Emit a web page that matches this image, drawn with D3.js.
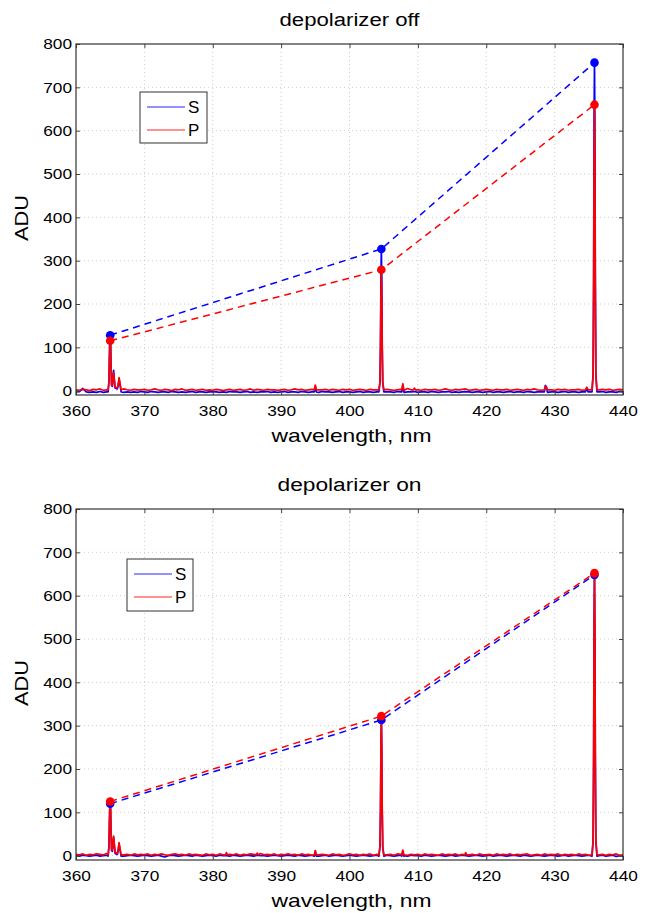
<!DOCTYPE html>
<html><head><meta charset="utf-8">
<script src="https://cdn.jsdelivr.net/npm/d3@7/dist/d3.min.js"></script>
<style>body{margin:0;background:#fff}svg{display:block}</style>
</head><body>
<svg id="chart" width="650" height="913"></svg>
<script>
// ---------- data ----------
const titles = ["depolarizer off", "depolarizer on"];
const seriesNames = ["S", "P"];
const xTicks = [360, 370, 380, 390, 400, 410, 420, 430, 440];
const yTicks = [0, 100, 200, 300, 400, 500, 600, 700, 800];
const baseStart = 360, baseStep = 0.5;   // wavelength grid of the baseline samples
const lineWavelengths = [365.0, 404.66, 435.83];

// peak ADU values marked with dots
const offS_dots = [128, 327, 757];
const offP_dots = [115, 279, 660];
const onS_dots  = [120, 313, 648];
const onP_dots  = [125, 322, 652];

// baseline readings, 360.0 .. 440.0 nm every 0.5 nm
const offS_base = [
 -3,-2,5,-3,-4,-3,-4,-2,-4,-3,-3,-4,-3,-2,-4,-3,-4,-3,-4,-2,
 -3,-4,-2,-3,-4,-3,-3,-4,-2,-3,-4,-3,-4,-3,-2,-4,-3,-3,-4,-3,
 -2,-3,-4,-3,-4,-2,-3,-3,-4,-3,-2,-4,-3,-4,-3,-3,-2,-4,-3,-4,
 -3,-2,-4,-3,-3,-4,-2,-3,-4,-3,-3,-4,-2,-3,-3,-4,-3,-2,-4,-3,
 -3,-4,-3,-2,-4,-3,-3,-4,-3,-2,-4,-3,-3,-4,-2,-3,-4,-3,-3,-2,
 -4,-3,-3,-4,-2,-3,-4,-3,-3,-2,-4,-3,-4,-3,-2,-3,-4,-3,-3,-4,
 -3,-2,-4,-3,-3,-4,-3,-2,-4,-3,-3,-4,-2,-3,-4,-3,-3,-2,-4,-3,
 -3,-4,-3,-2,-4,-3,-3,-4,-3,-2,-3,-4,-3,-3,-2,-4,-3,-3,-4,-2,
 -3];
const offP_base = [
 2,1,3,2,0,3,2,4,1,2,3,2,1,3,4,2,1,3,2,2,
 3,1,2,4,2,1,3,2,0,3,2,4,1,2,3,1,2,3,1,2,
 1,3,2,0,2,3,1,2,3,1,2,4,1,3,2,1,3,2,2,1,
 2,3,1,2,4,2,3,1,2,3,1,2,2,3,1,3,2,1,3,2,
 3,1,2,3,2,1,3,2,2,4,1,3,2,1,2,3,1,5,2,3,
 2,1,3,2,2,3,1,2,4,2,1,3,2,3,4,1,2,3,1,2,
 3,2,1,3,2,2,3,1,2,3,2,1,3,2,4,2,1,3,2,2,
 1,3,2,3,1,2,2,3,1,4,2,3,1,2,3,2,3,1,2,3,
 2];
const onS_base = [
 0,-1,1,0,-1,0,1,-1,0,1,0,-1,1,0,-1,0,1,0,-1,0,
 1,0,-1,0,1,-1,-3,0,1,0,-1,0,1,0,-1,1,0,-1,0,1,
 0,-1,1,0,0,-1,1,0,-1,0,1,0,-1,1,0,0,-1,0,1,0,
 -1,0,1,0,-1,1,0,-1,0,1,0,-1,0,1,-1,0,1,0,-1,0,
 1,0,-1,0,1,0,-1,0,1,-1,0,1,0,-1,0,1,0,-1,1,0,
 0,-1,1,0,-1,0,1,0,-1,0,1,-1,0,1,0,-1,0,1,0,-1,
 0,1,-1,0,1,0,-1,0,1,0,-1,1,0,-1,0,1,0,-1,0,1,
 0,-1,0,1,-1,0,1,0,-1,0,1,0,-1,0,1,-1,0,1,-2,0,
 -1];
const onP_base = [
 3,2,4,1,3,2,4,3,2,5,1,3,2,4,2,3,1,4,2,3,
 2,4,1,3,2,4,2,1,3,4,2,3,1,4,2,3,2,1,4,2,
 3,1,4,2,6,3,2,4,1,3,2,4,3,1,5,2,3,2,4,1,
 3,2,4,2,3,1,4,2,3,1,4,2,3,2,1,4,2,3,1,2,
 4,2,3,1,3,2,4,1,3,2,4,2,3,1,4,3,2,1,3,2,
 3,1,4,2,3,2,1,4,2,3,2,4,1,3,6,2,3,1,4,2,
 2,3,1,4,2,3,2,4,1,3,2,3,4,1,2,3,1,4,2,3,
 2,4,1,3,2,3,1,4,2,3,1,2,4,2,3,1,3,2,4,1,
 2];

// emission lines: [wavelength nm, ADU] points per line
const offS_peaks = [
 [[364.7,-3],[364.82,20],[364.89,80],[364.94,115],[365.0,128],[365.06,115],[365.11,70],[365.2,12],[365.32,10],[365.42,35],[365.5,47],[365.58,30],[365.72,6],[366.05,4],[366.2,15],[366.3,28],[366.4,18],[366.6,-3]],
 [[394.85,-3],[395.0,10],[395.15,-3]],
 [[404.3,-3],[404.46,20],[404.54,120],[404.6,260],[404.66,327],[404.72,260],[404.78,120],[404.86,20],[405.02,-3]],
 [[407.65,-3],[407.8,13],[407.95,-3]],
 [[428.5,-3],[428.65,12],[428.8,9],[428.95,-3]],
 [[434.5,-3],[434.7,5],[434.9,-3]],
 [[435.47,-3],[435.63,40],[435.71,280],[435.77,620],[435.83,757],[435.89,620],[435.95,280],[436.03,40],[436.19,-3]]
];
const offP_peaks = [
 [[364.7,2],[364.82,22],[364.89,75],[364.94,105],[365.0,115],[365.06,105],[365.11,65],[365.2,14],[365.32,12],[365.42,32],[365.5,42],[365.58,28],[365.72,8],[366.05,6],[366.2,17],[366.3,30],[366.4,20],[366.6,2]],
 [[394.85,2],[395.0,13],[395.15,2]],
 [[404.3,2],[404.46,20],[404.54,100],[404.6,220],[404.66,279],[404.72,220],[404.78,100],[404.86,20],[405.02,2]],
 [[407.65,2],[407.8,16],[407.95,2]],
 [[409.35,2],[409.5,6],[409.65,2]],
 [[428.5,2],[428.65,10],[428.8,7],[428.95,2]],
 [[434.5,2],[434.7,8],[434.9,2]],
 [[435.47,2],[435.63,35],[435.71,240],[435.77,540],[435.83,660],[435.89,540],[435.95,240],[436.03,35],[436.19,2]]
];
const onS_peaks = [
 [[364.7,-1],[364.82,20],[364.89,75],[364.94,108],[365.0,120],[365.06,108],[365.11,65],[365.2,12],[365.32,10],[365.42,32],[365.5,42],[365.58,28],[365.72,5],[366.05,3],[366.2,15],[366.3,27],[366.4,17],[366.6,-1]],
 [[394.85,-1],[395.0,10],[395.15,-1]],
 [[404.3,-1],[404.46,20],[404.54,110],[404.6,245],[404.66,313],[404.72,245],[404.78,110],[404.86,20],[405.02,-1]],
 [[407.65,-1],[407.8,10],[407.95,-1]],
 [[435.47,-1],[435.63,35],[435.71,235],[435.77,530],[435.83,648],[435.89,530],[435.95,235],[436.03,35],[436.19,-1]]
];
const onP_peaks = [
 [[364.7,2],[364.82,24],[364.89,80],[364.94,112],[365.0,125],[365.06,112],[365.11,68],[365.2,14],[365.32,12],[365.42,34],[365.5,45],[365.58,30],[365.72,8],[366.05,5],[366.2,18],[366.3,30],[366.4,20],[366.6,2]],
 [[381.85,2],[382.0,7],[382.15,2]],
 [[386.35,2],[386.5,6],[386.65,2]],
 [[394.85,2],[395.0,12],[395.15,2]],
 [[404.3,2],[404.46,22],[404.54,115],[404.6,250],[404.66,322],[404.72,250],[404.78,115],[404.86,22],[405.02,2]],
 [[407.65,2],[407.8,13],[407.95,2]],
 [[416.85,2],[417.0,7],[417.15,2]],
 [[435.47,2],[435.63,36],[435.71,238],[435.77,535],[435.83,652],[435.89,535],[435.95,238],[436.03,36],[436.19,2]]
];

// ---------- layout / style ----------
const colors = {S: "#0000ff", P: "#ff0000"};
const legendColors = {S: "#6c6cff", P: "#ff6c6c"};
const X0 = 76, X1 = 623, PH = 351;
const panels = [
  {title: titles[0], top: 44, S: [offS_base, offS_peaks, offS_dots], P: [offP_base, offP_peaks, offP_dots], legend: [140, 92, 67, 51]},
  {title: titles[1], top: 509, S: [onS_base, onS_peaks, onS_dots], P: [onP_base, onP_peaks, onP_dots], legend: [127, 559, 66, 52]}
];
const FONT = "'Liberation Sans', Arial, Helvetica, sans-serif";

function buildSpectrum(base, peaks) {
  const windows = peaks.map(p => [p[0][0], p[p.length - 1][0]]);
  const pts = base.map((v, i) => [baseStart + i * baseStep, v])
    .filter(([w]) => !windows.some(([a, b]) => w >= a && w <= b));
  peaks.forEach(p => p.forEach(pt => pts.push(pt)));
  return pts.sort((a, b) => a[0] - b[0]);
}

const svg = d3.select("#chart");
const x = d3.scaleLinear().domain([360, 440]).range([X0, X1]);

panels.forEach((pn, pi) => {
  const y = d3.scaleLinear().domain([-10, 800]).range([pn.top + PH, pn.top]);
  const g = svg.append("g");
  const clipId = "clip" + pi;
  svg.append("clipPath").attr("id", clipId).append("rect")
    .attr("x", X0).attr("y", pn.top).attr("width", X1 - X0).attr("height", PH);

  // grid
  const grid = g.append("g").attr("stroke", "#bfbfbf").attr("stroke-width", 0.8).attr("stroke-dasharray", "1,3");
  grid.selectAll("line.gx").data(xTicks.slice(1, -1)).join("line")
    .attr("x1", d => x(d)).attr("x2", d => x(d)).attr("y1", pn.top).attr("y2", pn.top + PH);
  grid.selectAll("line.gy").data(yTicks.slice(0, -1)).join("line")
    .attr("x1", X0).attr("x2", X1).attr("y1", d => y(d)).attr("y2", d => y(d));

  // spectra
  const line = d3.line().x(d => x(d[0])).y(d => y(d[1]));
  const plot = g.append("g").attr("clip-path", `url(#${clipId})`);
  seriesNames.forEach(s => {
    plot.append("path").datum(buildSpectrum(pn[s][0], pn[s][1]))
      .attr("d", line).attr("fill", "none").attr("stroke", colors[s])
      .attr("stroke-width", 1.7).attr("stroke-linejoin", "round");
  });
  // dashed connectors
  seriesNames.forEach(s => {
    const pts = lineWavelengths.map((w, i) => [w, pn[s][2][i]]);
    plot.append("path").datum(pts).attr("d", line).attr("fill", "none")
      .attr("stroke", colors[s]).attr("stroke-width", 1.5).attr("stroke-dasharray", "7,5");
  });
  // dots
  seriesNames.forEach(s => {
    g.selectAll(null).data(lineWavelengths.map((w, i) => [w, pn[s][2][i]])).join("circle")
      .attr("cx", d => x(d[0])).attr("cy", d => y(d[1])).attr("r", 4.3).attr("fill", colors[s]);
  });

  // axes (ticks pointing inward, matlab style)
  const styleAxis = sel => {
    sel.select(".domain").remove();
    sel.selectAll(".tick line").attr("stroke", "#444");
    sel.selectAll("text").attr("font-family", FONT).attr("font-size", 15).attr("fill", "#000")
      .attr("textLength", function () { return this.textContent.length * 9.6; })
      .attr("lengthAdjust", "spacingAndGlyphs");
  };
  g.append("g").attr("transform", `translate(0,${pn.top + PH})`)
    .call(d3.axisBottom(x).tickValues(xTicks).tickSizeInner(-4).tickSizeOuter(0).tickPadding(10))
    .call(styleAxis);
  g.append("g").attr("transform", `translate(0,${pn.top})`)
    .call(d3.axisTop(x).tickValues(xTicks).tickSizeInner(-4).tickSizeOuter(0).tickFormat(""))
    .call(styleAxis);
  g.append("g").attr("transform", `translate(${X0},0)`)
    .call(d3.axisLeft(y).tickValues(yTicks).tickSizeInner(-4).tickSizeOuter(0).tickPadding(4))
    .call(styleAxis);
  g.append("g").attr("transform", `translate(${X1},0)`)
    .call(d3.axisRight(y).tickValues(yTicks).tickSizeInner(-4).tickSizeOuter(0).tickFormat(""))
    .call(styleAxis);
  g.append("rect").attr("x", X0).attr("y", pn.top).attr("width", X1 - X0).attr("height", PH)
    .attr("fill", "none").attr("stroke", "#333").attr("stroke-width", 1.2);

  // texts
  g.append("text").attr("x", (X0 + X1) / 2).attr("y", pn.top - 18).attr("text-anchor", "middle")
    .attr("font-family", FONT).attr("font-size", 18).attr("textLength", pi ? 144 : 140)
    .attr("lengthAdjust", "spacingAndGlyphs").text(pn.title);
  g.append("text").attr("x", (X0 + X1) / 2 + 2).attr("y", pn.top + 398).attr("text-anchor", "middle")
    .attr("font-family", FONT).attr("font-size", 19).attr("textLength", 160)
    .attr("lengthAdjust", "spacingAndGlyphs").text("wavelength, nm");
  g.append("text").attr("transform", `translate(28,${pn.top + 174}) rotate(-90)`).attr("text-anchor", "middle")
    .attr("font-family", FONT).attr("font-size", 18).attr("textLength", 46)
    .attr("lengthAdjust", "spacingAndGlyphs").text("ADU");

  // legend
  const [lx, ly, lw, lh] = pn.legend;
  const lg = g.append("g");
  lg.append("rect").attr("x", lx).attr("y", ly).attr("width", lw).attr("height", lh)
    .attr("fill", "#fff").attr("stroke", "#333").attr("stroke-width", 1);
  seriesNames.forEach((s, i) => {
    const yy = ly + 15 + i * 23;
    lg.append("line").attr("x1", lx + 7).attr("x2", lx + 45).attr("y1", yy).attr("y2", yy)
      .attr("stroke", legendColors[s]).attr("stroke-width", 1.6);
    lg.append("text").attr("x", lx + 48).attr("y", yy + 6).attr("font-family", FONT)
      .attr("font-size", 17).text(s);
  });
});
</script>
</body></html>
